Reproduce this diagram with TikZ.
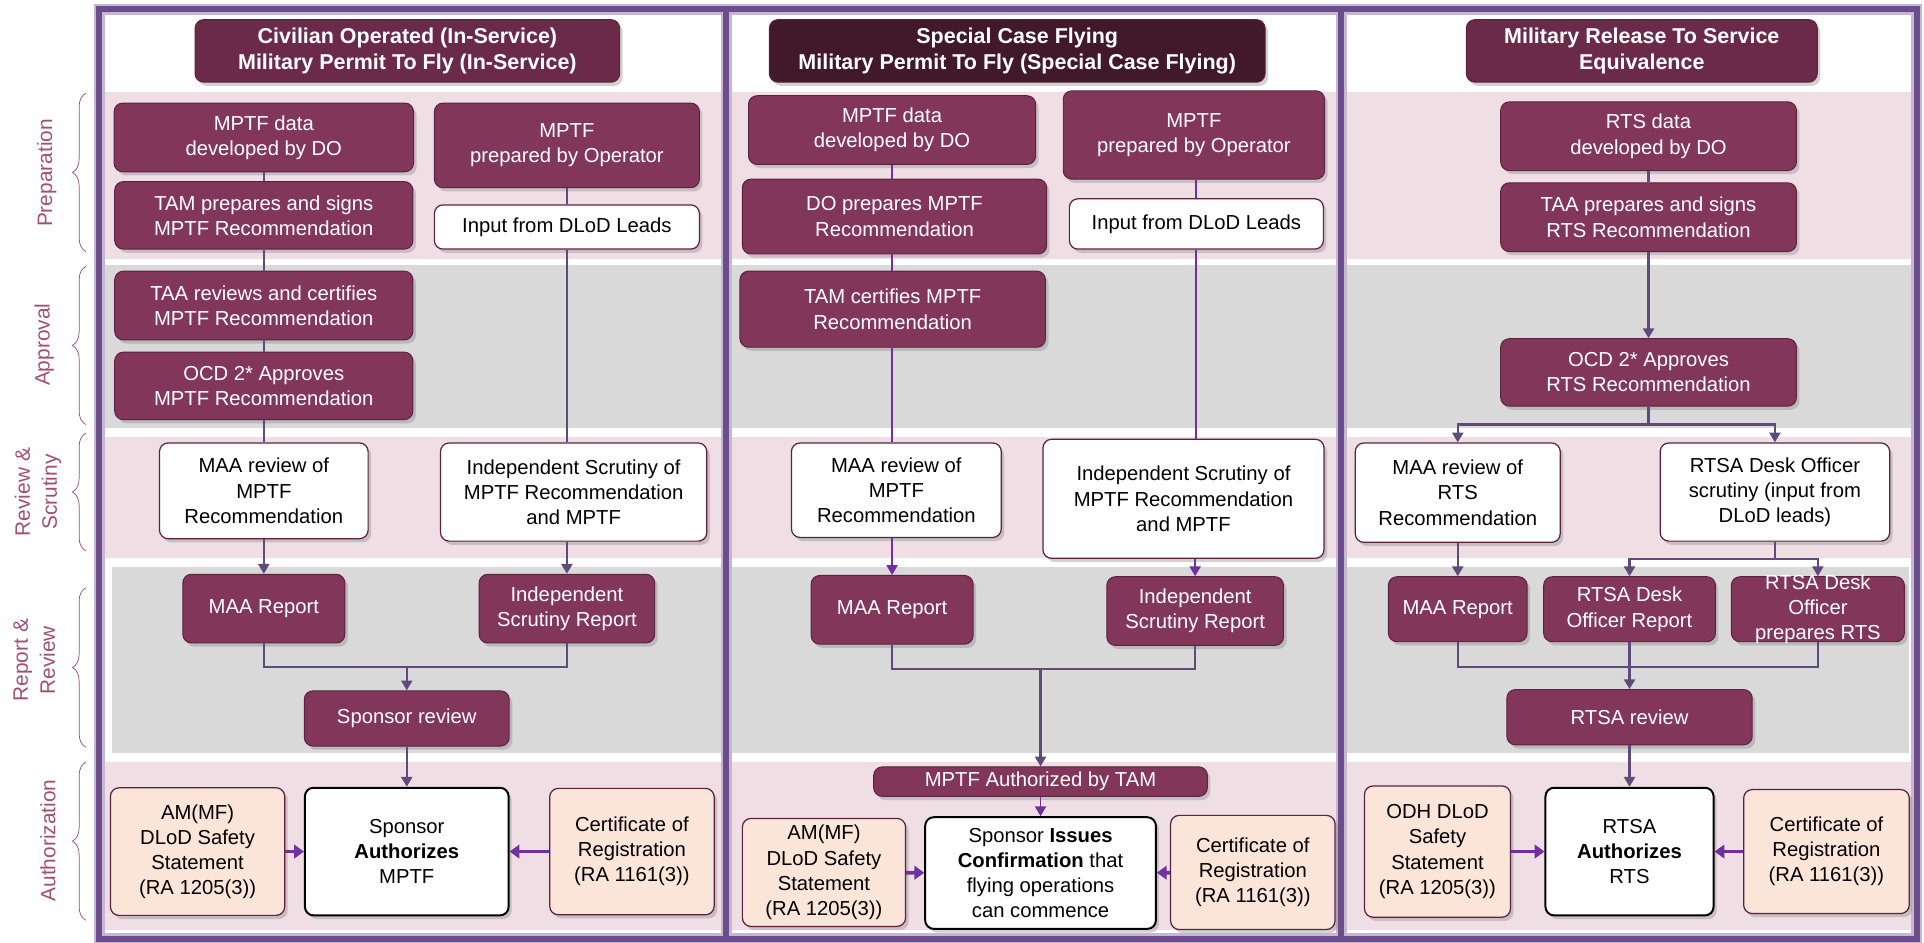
\documentclass[tikz,border=0pt]{standalone}
\usepackage{fontspec}
\setmainfont{Liberation Sans}
\usetikzlibrary{arrows.meta,shadows,decorations.pathreplacing}

\definecolor{plum}{HTML}{82375A}
\definecolor{plumedge}{HTML}{5C2140}
\definecolor{headplum}{HTML}{6B2A48}
\definecolor{headdark}{HTML}{42192B}
\definecolor{peach}{HTML}{FBE4D8}
\definecolor{pinkband}{HTML}{EFDFE5}
\definecolor{grayband}{HTML}{D9D9D9}
\definecolor{framepurple}{HTML}{6C4C8B}
\definecolor{linepurple}{HTML}{604A7B}
\definecolor{brightviolet}{HTML}{7030A0}
\definecolor{labelrose}{HTML}{A34F70}

\tikzset{
  box/.style={rounded corners=7pt, align=center, inner sep=2pt,
    font=\fontsize{16.5}{20.5}\selectfont,
    drop shadow={shadow xshift=2.5pt, shadow yshift=-3pt, opacity=.35}},
  darkbox/.style={box, fill=plum, draw=plumedge, line width=.8pt, text=white},
  whitebox/.style={box, fill=white, draw=plumedge, line width=1pt},
  peachbox/.style={box, fill=peach, draw=plumedge, line width=1pt},
  keybox/.style={box, fill=white, draw=black, line width=1.6pt},
  headbox/.style={box, fill=headplum, draw=plumedge, line width=.8pt, text=white,
    font=\bfseries\fontsize{17.5}{21.5}\selectfont},
  link/.style={draw=linepurple, line width=1.8pt},
  vlink/.style={draw=brightviolet, line width=1.5pt},
  arrow/.style={link, -{Triangle[length=8pt,width=9pt]}},
  varrow/.style={vlink, -{Triangle[length=8pt,width=9pt]}},
  sidearrow/.style={draw=brightviolet, line width=3pt, -{Triangle[length=8pt,width=11pt]}},
  sidelabel/.style={text=labelrose, rotate=90, align=center, font=\fontsize{17}{22}\selectfont},
  sidebrace/.style={draw=labelrose, line width=.6pt, decorate, decoration={brace, amplitude=11pt}}
}

\begin{document}
\begin{tikzpicture}[x=1pt,y=-1pt]
  \fill[white] (0,0) rectangle (1568,768);
  \useasboundingbox (0,0) rectangle (1568,768);

  % row bands
  \fill[pinkband] (85,75) rectangle (1560,211);
  \fill[grayband] (85,216) rectangle (1560,349);
  \fill[pinkband] (85,356) rectangle (1560,455);
  \fill[grayband] (91,462) rectangle (1556,614);
  \fill[pinkband] (85,621) rectangle (1560,758);

  % column frames
  \foreach \xa/\xb in {81/592, 592/1093, 1093/1562}
    \draw[framepurple!40, line width=9pt] (\xa,7.5) rectangle (\xb,765);
  \foreach \xa/\xb in {81/592, 592/1093, 1093/1562}
    \draw[framepurple, line width=5pt] (\xa,7.5) rectangle (\xb,765);

  % stage labels
  \node[sidelabel] (lprep) at (38,141) {Preparation};
  \node[sidelabel] (lappr) at (36,281) {Approval};
  \node[sidelabel] (lrev) at (31,401) {Review \&\\Scrutiny};
  \node[sidelabel] (lrep) at (28,538) {Report \&\\Review};
  \node[sidelabel] (lauth) at (39,685) {Authorization};
  \draw[sidebrace] (70,205) -- (70,76);
  \draw[sidebrace] (70,346) -- (70,217);
  \draw[sidebrace] (70,449) -- (70,353);
  \draw[sidebrace] (70,609) -- (70,479);
  \draw[sidebrace] (70,750) -- (70,621);

  % column 1
  \node[headbox, minimum width=346, minimum height=51] (c1head) at (332,41.5) {Civilian Operated (In-Service)\\Military Permit To Fly (In-Service)};
  \node[darkbox, minimum width=244, minimum height=56] (c1data) at (215,112) {MPTF data\\developed by DO};
  \node[darkbox, minimum width=243, minimum height=55] (c1tam) at (215,175.5) {TAM prepares and signs\\MPTF Recommendation};
  \node[darkbox, minimum width=216, minimum height=69] (c1op) at (462,118.5) {MPTF\\prepared by Operator};
  \node[whitebox, minimum width=216, minimum height=36] (c1input) at (462,185) {Input from DLoD Leads};
  \node[darkbox, minimum width=243, minimum height=56] (c1taa) at (215,249) {TAA reviews and certifies\\MPTF Recommendation};
  \node[darkbox, minimum width=243, minimum height=55] (c1ocd) at (215,314.5) {OCD 2* Approves\\MPTF Recommendation};
  \node[whitebox, minimum width=170, minimum height=78] (c1maarev) at (215,400) {MAA review of\\MPTF\\Recommendation};
  \node[whitebox, minimum width=217, minimum height=80] (c1indrev) at (467.5,401) {Independent Scrutiny of\\MPTF Recommendation\\and MPTF};
  \node[darkbox, minimum width=132, minimum height=56] (c1maarep) at (215,496) {MAA Report};
  \node[darkbox, minimum width=143, minimum height=56] (c1indrep) at (462,496) {Independent\\Scrutiny Report};
  \node[darkbox, minimum width=167, minimum height=45] (c1sprev) at (331.5,585.5) {Sponsor review};
  \node[peachbox, minimum width=142, minimum height=104] (c1amf) at (161,694) {AM(MF)\\DLoD Safety\\Statement\\(RA 1205(3))};
  \node[keybox, minimum width=166, minimum height=104] (c1auth) at (331.5,694) {Sponsor\\\textbf{Authorizes}\\MPTF};
  \node[peachbox, minimum width=134, minimum height=103] (c1cert) at (515,694) {Certificate of\\Registration\\(RA 1161(3))};
  \coordinate (c1join) at (331.5,543.6);

  \draw[link] (c1data) -- (c1tam);
  \draw[link] (c1tam) -- (c1taa);
  \draw[link] (c1taa) -- (c1ocd);
  \draw[link] (c1ocd) -- (c1maarev);
  \draw[link] (c1op) -- (c1input);
  \draw[link] (c1input) -- (c1input |- c1indrev.north);
  \draw[arrow] (c1maarev) -- (c1maarep);
  \draw[arrow] (c1indrep |- c1indrev.south) -- (c1indrep);
  \draw[link] (c1maarep.south) |- (c1join) -| (c1indrep.south);
  \draw[arrow] (c1join) -- (c1sprev);
  \draw[arrow] (c1sprev) -- (c1auth);
  \draw[sidearrow] (c1amf) -- (c1auth);
  \draw[sidearrow] (c1cert) -- (c1auth);

  % column 2
  \node[headbox, fill=headdark, minimum width=404, minimum height=51] (c2head) at (829,41.5) {Special Case Flying\\Military Permit To Fly (Special Case Flying)};
  \node[darkbox, minimum width=234, minimum height=56] (c2data) at (727,106) {MPTF data\\developed by DO};
  \node[darkbox, minimum width=248, minimum height=61] (c2doprep) at (729,176.5) {DO prepares MPTF\\Recommendation};
  \node[darkbox, minimum width=249, minimum height=62] (c2tam) at (727.5,252) {TAM certifies MPTF\\Recommendation};
  \node[darkbox, minimum width=213, minimum height=72] (c2op) at (973,110) {MPTF\\prepared by Operator};
  \node[whitebox, minimum width=207, minimum height=41] (c2input) at (975,182.5) {Input from DLoD Leads};
  \node[whitebox, minimum width=171, minimum height=77] (c2maarev) at (730.5,399.5) {MAA review of\\MPTF\\Recommendation};
  \node[whitebox, minimum width=229, minimum height=97] (c2indrev) at (964.5,406.5) {Independent Scrutiny of\\MPTF Recommendation\\and MPTF};
  \node[darkbox, minimum width=132, minimum height=56] (c2maarep) at (727,497) {MAA Report};
  \node[darkbox, minimum width=144, minimum height=56] (c2indrep) at (974,498) {Independent\\Scrutiny Report};
  \node[darkbox, minimum width=272, minimum height=24, inner sep=0pt] (c2tamauth) at (848,637) {MPTF Authorized by TAM};
  \node[keybox, minimum width=188, minimum height=91, inner sep=1pt] (c2confirm) at (848,711.5) {Sponsor \textbf{Issues}\\\textbf{Confirmation} that\\flying operations\\can commence};
  \node[peachbox, minimum width=133, minimum height=88, inner sep=1pt] (c2amf) at (671.5,711) {AM(MF)\\DLoD Safety\\Statement\\(RA 1205(3))};
  \node[peachbox, minimum width=134, minimum height=93] (c2cert) at (1021,711) {Certificate of\\Registration\\(RA 1161(3))};
  \coordinate (c2join) at (848,545);

  \draw[vlink] (c2data) -- (c2data |- c2doprep.north);
  \draw[vlink] (c2data |- c2doprep.south) -- (c2data |- c2tam.north);
  \draw[vlink] (c2data |- c2tam.south) -- (c2data |- c2maarev.north);
  \draw[vlink] (c2input |- c2op.south) -- (c2input);
  \draw[vlink] (c2input) -- (c2input |- c2indrev.north);
  \draw[varrow] (c2maarep |- c2maarev.south) -- (c2maarep);
  \draw[varrow] (c2indrep |- c2indrev.south) -- (c2indrep);
  \draw[link] (c2maarep.south) |- (c2join) -| (c2indrep.south);
  \draw[arrow] (c2join) -- (c2tamauth);
  \draw[varrow] (c2tamauth) -- (c2confirm);
  \draw[sidearrow] (c2amf) -- (c2confirm);
  \draw[sidearrow] (c2cert) -- (c2confirm);

  % column 3
  \node[headbox, minimum width=286, minimum height=51] (c3head) at (1338,41.5) {Military Release To Service\\Equivalence};
  \node[darkbox, minimum width=241, minimum height=56] (c3data) at (1343.5,111) {RTS data\\developed by DO};
  \node[darkbox, minimum width=241, minimum height=56] (c3taa) at (1343.5,177) {TAA prepares and signs\\RTS Recommendation};
  \node[darkbox, minimum width=241, minimum height=55] (c3ocd) at (1343.5,303.5) {OCD 2* Approves\\RTS Recommendation};
  \node[whitebox, minimum width=167, minimum height=81] (c3maarev) at (1188,401.5) {MAA review of\\RTS\\Recommendation};
  \node[whitebox, minimum width=187, minimum height=80] (c3deskrev) at (1446.5,401) {RTSA Desk Officer\\scrutiny (input from\\DLoD leads)};
  \node[darkbox, minimum width=113, minimum height=53] (c3maarep) at (1188,496.5) {MAA Report};
  \node[darkbox, minimum width=140, minimum height=53] (c3deskrep) at (1328,496.5) {RTSA Desk\\Officer Report};
  \node[darkbox, minimum width=141, minimum height=53] (c3deskprep) at (1481.5,496.5) {};
  \node[text=white, align=center, font=\fontsize{16.5}{20.5}\selectfont] (c3deskpreptext) at (c3deskprep) {RTSA Desk\\Officer\\prepares RTS};
  \node[darkbox, minimum width=200, minimum height=45] (c3rtsarev) at (1328,584.5) {RTSA review};
  \node[keybox, minimum width=137, minimum height=104] (c3auth) at (1328,694) {RTSA\\\textbf{Authorizes}\\RTS};
  \node[peachbox, minimum width=119, minimum height=107] (c3odh) at (1171.5,694) {ODH DLoD\\Safety\\Statement\\(RA 1205(3))};
  \node[peachbox, minimum width=135, minimum height=101] (c3cert) at (1488.5,694) {Certificate of\\Registration\\(RA 1161(3))};
  \coordinate (c3split) at (1343.5,346);
  \coordinate (c3split2) at (1446.5,455.6);
  \coordinate (c3join) at (1328,543.6);

  \draw[link] (c3data) -- (c3taa);
  \draw[arrow] (c3taa) -- (c3ocd);
  \draw[link] (c3ocd) -- (c3split);
  \draw[arrow] (c3split) -| (c3maarev);
  \draw[arrow] (c3split) -| (c3deskrev);
  \draw[arrow] (c3maarev) -- (c3maarep);
  \draw[link] (c3deskrev) -- (c3split2);
  \draw[arrow] (c3split2) -| (c3deskrep);
  \draw[arrow] (c3split2) -| (c3deskprep);
  \draw[link] (c3maarep.south) |- (c3join) -| (c3deskprep.south);
  \draw[link] (c3deskrep) -- (c3join);
  \draw[arrow] (c3join) -- (c3rtsarev);
  \draw[arrow] (c3rtsarev) -- (c3auth);
  \draw[sidearrow] (c3odh) -- (c3auth);
  \draw[sidearrow] (c3cert) -- (c3auth);
\end{tikzpicture}
\end{document}
